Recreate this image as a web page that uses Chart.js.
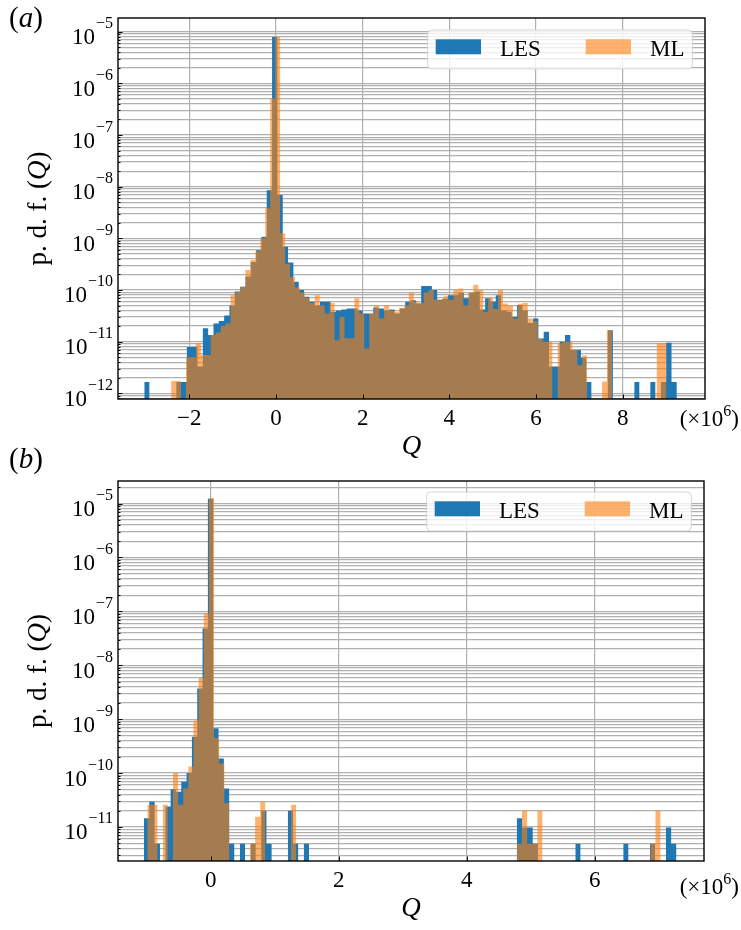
<!DOCTYPE html>
<html lang="en">
<head>
    <meta charset="UTF-8">
    <title>p.d.f. of Q - LES vs ML</title>
    <script src="https://cdn.jsdelivr.net/npm/chart.js"></script>
    <style>
        body {
            margin: 0;
            background-color: #fff;
        }
        #wrap {
            position: relative;
            width: 741px;
            height: 930px;
        }
        canvas {
            position: absolute;
            left: 0;
        }
        #chartA {top: 0}
        #chartB {top: 440px} /* overlaps a bit so panel (a)'s Q label has room */
    </style>
</head>
<body>
    <div id="wrap">
        <canvas id="chartA" width="741" height="475"></canvas>
        <canvas id="chartB" width="741" height="490"></canvas>
    </div>

    <script>
        // ---- panel (a) : 100 bins per series, each series has its own bin edges (x in units of 1e6)
        const lesStartA = -3.04, lesWidthA = 0.1229
        const mlStartA = -2.42, mlWidthA = 0.1143
        const lesPdfA = [
            1.66e-12, 0, 0, 0, 0, 0, 1.66e-12, 1.66e-12, 7.9e-12, 7.9e-12,
            3.3e-12, 1.82e-11, 1.35e-11, 2.24e-11, 2.5e-11, 3.2e-11, 5.0e-11, 9.3e-11, 1.15e-10, 1.82e-10,
            3.5e-10, 5.9e-10, 1.07e-9, 8.5e-9, 7.9e-6, 6.9e-9, 6.9e-10, 3.4e-10, 1.45e-10, 1.0e-10,
            7.4e-11, 5.9e-11, 5.0e-11, 5.9e-11, 5.9e-11, 3.8e-11, 4.0e-11, 4.2e-11, 4.4e-11, 4.4e-11,
            4.0e-11, 3.5e-11, 3.5e-11, 4.6e-11, 4.4e-11, 4.0e-11, 4.2e-11, 3.5e-11, 4.4e-11, 5.9e-11,
            6.3e-11, 5.5e-11, 1.2e-10, 1.2e-10, 1.0e-10, 6.5e-11, 6.8e-11, 7.9e-11, 7.9e-11, 8.7e-11,
            6.9e-11, 8.7e-11, 9.3e-11, 4.2e-11, 6.9e-11, 5.9e-11, 7.9e-11, 4.0e-11, 3.8e-11, 3.0e-11,
            5.1e-11, 4.0e-11, 2.3e-11, 2.8e-11, 1.15e-11, 1.55e-11, 3.3e-12, 3.3e-12, 1.0e-11, 1.35e-11,
            6.9e-12, 6.9e-12, 4.9e-12, 1.66e-12, 0, 0, 0, 1.66e-11, 0, 0,
            0, 0, 1.66e-12, 0, 0, 1.66e-12, 0, 1.66e-12, 9.5e-12, 1.66e-12
        ]
        const mlPdfA = [
            1.74e-12, 1.74e-12, 0, 5.0e-12, 5.0e-12, 9.3e-12, 5.5e-12, 5.5e-12, 1.35e-11, 1.5e-11,
            2.0e-11, 2.24e-11, 7.9e-11, 9.3e-11, 1.15e-10, 2.45e-10, 3.8e-10, 5.6e-10, 1.0e-9, 3.8e-9,
            5.1e-7, 7.9e-6, 1.26e-9, 3.2e-10, 1.78e-10, 1.12e-10, 8.9e-11, 7.1e-11, 5.6e-11, 7.9e-11,
            5.0e-11, 3.5e-11, 5.6e-11, 1.07e-11, 3.0e-11, 1.17e-11, 1.17e-11, 6.9e-11, 3.5e-11, 7.4e-12,
            3.5e-11, 5.0e-11, 2.8e-11, 5.1e-11, 4.0e-11, 3.8e-11, 4.5e-11, 5.0e-11, 8.9e-11, 5.9e-11,
            5.6e-11, 8.9e-11, 1.0e-10, 6.5e-11, 6.5e-11, 7.6e-11, 6.5e-11, 1.0e-10, 1.07e-10, 5.0e-11,
            8.9e-11, 1.26e-10, 1.0e-10, 3.8e-11, 6.9e-11, 4.3e-11, 1.0e-10, 5.5e-11, 5.0e-11, 2.8e-11,
            5.4e-11, 5.6e-11, 2.8e-11, 2.5e-11, 1.15e-11, 1.0e-11, 1.0e-11, 0, 9.3e-12, 1.0e-11,
            1.0e-11, 6.9e-12, 3.5e-12, 5.4e-12, 0, 0, 0, 1.7e-12, 1.66e-11, 0,
            0, 0, 0, 0, 0, 0, 0, 0, 9.3e-12, 9.3e-12
        ]
        const xTicksA = [-2, 0, 2, 4, 6, 8]
        const yExpA = [-13, -12, -11, -10, -9, -8, -7, -6, -5]

        // ---- panel (b)
        const lesStartB = -1.042, lesWidthB = 0.0832
        const mlStartB = -0.99, mlWidthB = 0.0802
        const lesPdfB = [
            1.45e-11, 2.95e-11, 4.9e-12, 0, 2.4e-11, 5.0e-11, 4.5e-11, 6.9e-11, 1.0e-10, 4.7e-10,
            3.7e-9, 4.8e-8, 1.23e-5, 6.8e-10, 1.86e-10, 5.2e-11, 4.9e-12, 0, 4.9e-12, 0,
            4.9e-12, 0, 2.0e-11, 4.9e-12, 0, 0, 0, 2.0e-11, 4.9e-12, 0,
            4.9e-12, 0, 0, 0, 0, 0, 0, 0, 0, 0,
            0, 0, 0, 0, 0, 0, 0, 0, 0, 0,
            0, 0, 0, 0, 0, 0, 0, 0, 0, 0,
            0, 0, 0, 0, 0, 0, 0, 0, 0, 0,
            1.45e-11, 9.8e-12, 9.8e-12, 4.9e-12, 0, 0, 0, 0, 0, 0,
            0, 4.9e-12, 0, 0, 0, 0, 0, 0, 0, 0,
            4.9e-12, 0, 0, 0, 0, 4.9e-12, 0, 0, 9.8e-12, 4.9e-12
        ]
        const mlPdfB = [
            2.6e-11, 2.6e-11, 0, 2.6e-11, 0, 1.0e-10, 2.6e-11, 5.2e-11, 1.32e-10, 9.5e-10,
            5.8e-9, 9.1e-8, 1.26e-5, 4.5e-10, 1.5e-10, 2.8e-11, 0, 0, 0, 0,
            4.9e-12, 1.55e-11, 2.95e-11, 0, 0, 0, 0, 0, 2.6e-11, 0,
            0, 0, 0, 0, 0, 0, 0, 0, 0, 0,
            0, 0, 0, 0, 0, 0, 0, 0, 0, 0,
            0, 0, 0, 0, 0, 0, 0, 0, 0, 0,
            0, 0, 0, 0, 0, 0, 0, 0, 0, 0,
            0, 0, 4.9e-12, 2.0e-11, 4.9e-12, 4.9e-12, 2.0e-11, 0, 0, 0,
            0, 0, 0, 0, 0, 0, 0, 0, 0, 0,
            0, 0, 0, 0, 0, 0, 0, 0, 4.9e-12, 2.0e-11
        ]
        const xTicksB = [0, 2, 4, 6]
        const yExpB = [-12, -11, -10, -9, -8, -7, -6, -5]

        const seriesNames = ['LES', 'ML']
        const minorMantissa = [1, 2, 3, 4, 5, 6, 7, 8, 9]

        const SERIF = '"Liberation Serif", "Times New Roman", serif'
        const TICK_FONT = '23px ' + SERIF
        const SUP_FONT = '16px ' + SERIF
        const GRID = '#b0b0b0'
        const LES_COLOR = '#1f77b4'
        const ML_COLOR = 'rgba(255,127,14,0.6)'

        // histogram as one filled step outline per run of non-empty bins
        // (a single path, so the translucent ML fill has no seams between bins)
        function stepPoints(start, width, pdf) {
            let pts = []
            for (let i = 0; i < pdf.length; i++) {
                if (!(pdf[i] > 0)) continue
                pts.push({x: start + i * width, y: pdf[i]})
                if (i === pdf.length - 1 || !(pdf[i + 1] > 0)) {
                    pts.push({x: start + (i + 1) * width, y: pdf[i]})
                    pts.push({x: start + (i + 1.5) * width, y: null}) // break: empty bin
                }
            }
            return pts
        }

        function logTicks(exps, min, max) {
            let out = []
            for (let e of exps) {
                for (let m of minorMantissa) {
                    let v = m * Math.pow(10, e)
                    if (v >= min && v <= max) out.push({value: v, major: m === 1})
                }
            }
            return out
        }

        function textRun(ctx, parts, x, y) {
            for (let p of parts) {
                ctx.font = p.font
                ctx.fillText(p.t, x, y + (p.dy || 0))
                x += ctx.measureText(p.t).width
            }
            return x
        }
        function runWidth(ctx, parts) {
            let w = 0
            for (let p of parts) { ctx.font = p.font; w += ctx.measureText(p.t).width }
            return w
        }

        // everything matplotlib draws that chart.js doesn't: frame, inward ticks, 10^n labels, legend box...
        const decor = {
            id: 'decor',
            afterDraw(chart, args, o) {
                let ctx = chart.ctx
                let a = chart.chartArea
                let xs = chart.scales.x, ys = chart.scales.y
                ctx.save()
                ctx.fillStyle = '#000'
                ctx.strokeStyle = '#000'
                ctx.textBaseline = 'alphabetic'

                // inward ticks
                ctx.lineWidth = 1
                ctx.beginPath()
                ys.ticks.forEach(t => {
                    let py = Math.round(ys.getPixelForValue(t.value)) + 0.5
                    ctx.moveTo(a.left, py)
                    ctx.lineTo(a.left + (t.major ? 4.5 : 2.5), py)
                })
                xs.ticks.forEach(t => {
                    let px = Math.round(xs.getPixelForValue(t.value)) + 0.5
                    ctx.moveTo(px, a.bottom)
                    ctx.lineTo(px, a.bottom - 4.5)
                })
                ctx.stroke()

                // frame
                ctx.lineWidth = 1.4
                ctx.strokeRect(a.left, a.top, a.right - a.left, a.bottom - a.top)

                // y labels 10^n
                ctx.textAlign = 'right'
                ys.ticks.filter(t => t.major).forEach(t => {
                    let py = ys.getPixelForValue(t.value)
                    let e = Math.round(Math.log10(t.value))
                    let sup = (e < 0 ? '\u2212' : '') + Math.abs(e)
                    ctx.font = SUP_FONT
                    let sw = ctx.measureText(sup).width
                    ctx.fillText(sup, a.left - 5, py - 3.5)
                    ctx.font = TICK_FONT
                    ctx.fillText('10', a.left - 6 - sw, py + 12.5)
                })

                // x labels
                ctx.textAlign = 'center'
                ctx.font = TICK_FONT
                xs.ticks.forEach(t => {
                    let lab = t.value < 0 ? '\u2212' + Math.abs(t.value) : String(t.value)
                    ctx.fillText(lab, xs.getPixelForValue(t.value), a.bottom + 25.5)
                })

                // offset text (x10^6)
                ctx.textAlign = 'left'
                let off = [
                    {t: '(\u00d710', font: TICK_FONT},
                    {t: '6', font: SUP_FONT, dy: -10},
                    {t: ')', font: TICK_FONT}
                ]
                textRun(ctx, off, 739 - runWidth(ctx, off), a.bottom + o.offsetDy)

                // x label
                ctx.textAlign = 'center'
                ctx.font = 'italic 27px ' + SERIF
                ctx.fillText('Q', (a.left + a.right) / 2, a.bottom + 55)

                // y label, rotated
                ctx.textAlign = 'left'
                let ylab = [
                    {t: 'p. d. f. (', font: '27px ' + SERIF},
                    {t: 'Q', font: 'italic 27px ' + SERIF},
                    {t: ')', font: '27px ' + SERIF}
                ]
                let yw = runWidth(ctx, ylab)
                ctx.save()
                ctx.translate(46, (a.top + a.bottom) / 2)
                ctx.rotate(-Math.PI / 2)
                textRun(ctx, ylab, -yw / 2, 0)
                ctx.restore()

                // panel letter
                textRun(ctx, [
                    {t: '(', font: '29px ' + SERIF},
                    {t: o.letter, font: 'italic 29px ' + SERIF},
                    {t: ')', font: '29px ' + SERIF}
                ], 9, o.letterY)

                // legend
                let bw = 264.6, bh = 39
                let bx = a.right - 12.7 - bw, by = a.top + o.legendDy
                let r = 4
                ctx.beginPath()
                ctx.moveTo(bx + r, by)
                ctx.arcTo(bx + bw, by, bx + bw, by + bh, r)
                ctx.arcTo(bx + bw, by + bh, bx, by + bh, r)
                ctx.arcTo(bx, by + bh, bx, by, r)
                ctx.arcTo(bx, by, bx + bw, by, r)
                ctx.closePath()
                ctx.fillStyle = 'rgba(255,255,255,0.8)'
                ctx.fill()
                ctx.strokeStyle = 'rgba(204,204,204,0.8)'
                ctx.lineWidth = 1
                ctx.stroke()

                let ds = chart.data.datasets
                let items = [[8, 72.3], [158, 222.3]]
                items.forEach((it, i) => {
                    ctx.fillStyle = ds[i].backgroundColor
                    ctx.fillRect(bx + it[0], by + 9.3, 45.3, 15)
                    ctx.fillStyle = '#000'
                    ctx.font = '23px ' + SERIF
                    ctx.fillText(ds[i].label, bx + it[1], by + 25.5)
                })
                ctx.restore()
            }
        }

        function makeChart(id, p) {
            let el = document.getElementById(id)
            let histOpts = {
                fill: 'start',
                stepped: 'before', // horizontal at the left edge's value, then drop
                spanGaps: false,
                pointRadius: 0,
                borderWidth: 0,
                borderColor: 'rgba(0,0,0,0)'
            }
            return new Chart(el, {
                type: 'line',
                data: {
                    datasets: [Object.assign({
                        label: seriesNames[0],
                        data: stepPoints(p.lesStart, p.lesWidth, p.lesPdf),
                        backgroundColor: LES_COLOR,
                        order: 1
                    }, histOpts), Object.assign({
                        label: seriesNames[1],
                        data: stepPoints(p.mlStart, p.mlWidth, p.mlPdf),
                        backgroundColor: ML_COLOR,
                        order: 0
                    }, histOpts)]
                },
                options: {
                    responsive: false,
                    animation: false,
                    events: [],
                    layout: {padding: {top: p.top, right: p.right, left: 0, bottom: 0}},
                    plugins: {
                        legend: {display: false},
                        tooltip: {enabled: false},
                        decor: {letter: p.letter, letterY: p.letterY, legendDy: p.legendDy, offsetDy: p.offsetDy}
                    },
                    scales: {
                        x: {
                            type: 'linear', min: p.xMin, max: p.xMax, offset: false, z: 1,
                            afterBuildTicks: s => { s.ticks = p.xTicks.map(v => ({value: v})) },
                            afterFit: s => { s.height = p.xAxisH },
                            ticks: {display: false},
                            grid: {color: GRID, lineWidth: 1.2, drawTicks: false},
                            border: {display: false}
                        },
                        y: {
                            type: 'logarithmic', min: p.yMin, max: p.yMax, z: 1,
                            afterBuildTicks: s => { s.ticks = logTicks(p.yExp, p.yMin, p.yMax) },
                            afterFit: s => { s.width = 118 },
                            ticks: {display: false},
                            grid: {color: GRID, lineWidth: 1.2, drawTicks: false},
                            border: {display: false}
                        }
                    }
                },
                plugins: [decor]
            })
        }

        makeChart('chartA', {
            lesStart: lesStartA, lesWidth: lesWidthA, lesPdf: lesPdfA,
            mlStart: mlStartA, mlWidth: mlWidthA, mlPdf: mlPdfA,
            xTicks: xTicksA, yExp: yExpA,
            xMin: -3.646, xMax: 9.9, yMin: 7.76e-13, yMax: 1.84e-5,
            top: 18, right: 36, xAxisH: 475 - 399,
            letter: 'a', letterY: 27, legendDy: 12, offsetDy: 27
        })
        makeChart('chartB', {
            lesStart: lesStartB, lesWidth: lesWidthB, lesPdf: lesPdfB,
            mlStart: mlStartB, mlWidth: mlWidthB, mlPdf: mlPdfB,
            xTicks: xTicksB, yExp: yExpB,
            xMin: -1.448, xMax: 7.708, yMin: 2.34e-12, yMax: 2.62e-5,
            top: 41, right: 37, xAxisH: 69,
            letter: 'b', letterY: 28, legendDy: 11, offsetDy: 33
        })
    </script>
</body>
</html>
